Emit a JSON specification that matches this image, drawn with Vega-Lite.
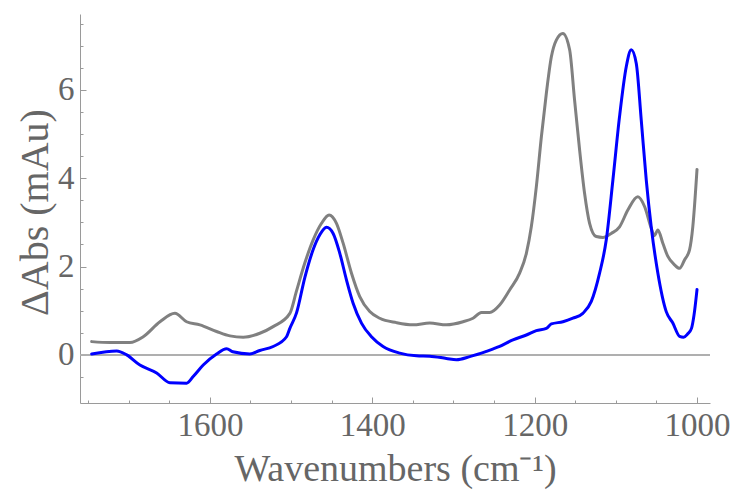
{
  "$schema": "https://vega.github.io/schema/vega-lite/v6.json",
  "width": 630,
  "height": 389,
  "autosize": {"type": "none"},
  "padding": {"left": 80, "top": 14, "right": 26, "bottom": 91},
  "background": "white",
  "config": {
    "view": {"stroke": null},
    "font": "Liberation Serif",
    "axis": {"grid": false, "labelFont": "Liberation Serif", "titleFont": "Liberation Serif", "labelColor": "#666666", "titleColor": "#666666", "titleFontWeight": "normal", "domainColor": "#9a9a9a", "tickColor": "#9a9a9a"}
  },
  "datasets": {
    "spectra": [
      {"s": "s1", "wn": 1745.6, "a": 0.30},
      {"s": "s1", "wn": 1723.1, "a": 0.28},
      {"s": "s1", "wn": 1698.5, "a": 0.28},
      {"s": "s1", "wn": 1682.1, "a": 0.41},
      {"s": "s1", "wn": 1661.5, "a": 0.75},
      {"s": "s1", "wn": 1643.1, "a": 0.94},
      {"s": "s1", "wn": 1628.7, "a": 0.75},
      {"s": "s1", "wn": 1612.3, "a": 0.68},
      {"s": "s1", "wn": 1591.8, "a": 0.53},
      {"s": "s1", "wn": 1575.4, "a": 0.43},
      {"s": "s1", "wn": 1559.0, "a": 0.40},
      {"s": "s1", "wn": 1538.5, "a": 0.49},
      {"s": "s1", "wn": 1522.1, "a": 0.64},
      {"s": "s1", "wn": 1501.5, "a": 0.94},
      {"s": "s1", "wn": 1493.3, "a": 1.45},
      {"s": "s1", "wn": 1483.1, "a": 2.08},
      {"s": "s1", "wn": 1472.9, "a": 2.60},
      {"s": "s1", "wn": 1462.5, "a": 2.98},
      {"s": "s1", "wn": 1453.2, "a": 3.17},
      {"s": "s1", "wn": 1444.1, "a": 2.98},
      {"s": "s1", "wn": 1435.9, "a": 2.53},
      {"s": "s1", "wn": 1425.6, "a": 1.85},
      {"s": "s1", "wn": 1415.4, "a": 1.32},
      {"s": "s1", "wn": 1403.1, "a": 0.98},
      {"s": "s1", "wn": 1390.8, "a": 0.83},
      {"s": "s1", "wn": 1370.2, "a": 0.73},
      {"s": "s1", "wn": 1349.8, "a": 0.68},
      {"s": "s1", "wn": 1329.2, "a": 0.72},
      {"s": "s1", "wn": 1308.7, "a": 0.68},
      {"s": "s1", "wn": 1288.2, "a": 0.75},
      {"s": "s1", "wn": 1275.9, "a": 0.83},
      {"s": "s1", "wn": 1265.6, "a": 0.96},
      {"s": "s1", "wn": 1255.4, "a": 0.96},
      {"s": "s1", "wn": 1243.1, "a": 1.13},
      {"s": "s1", "wn": 1230.8, "a": 1.47},
      {"s": "s1", "wn": 1218.5, "a": 1.85},
      {"s": "s1", "wn": 1210.2, "a": 2.30},
      {"s": "s1", "wn": 1204.1, "a": 2.90},
      {"s": "s1", "wn": 1197.9, "a": 3.81},
      {"s": "s1", "wn": 1191.7, "a": 4.94},
      {"s": "s1", "wn": 1185.6, "a": 5.92},
      {"s": "s1", "wn": 1179.4, "a": 6.75},
      {"s": "s1", "wn": 1173.3, "a": 7.13},
      {"s": "s1", "wn": 1165.2, "a": 7.28},
      {"s": "s1", "wn": 1156.9, "a": 6.91},
      {"s": "s1", "wn": 1150.8, "a": 5.77},
      {"s": "s1", "wn": 1144.6, "a": 4.64},
      {"s": "s1", "wn": 1138.5, "a": 3.66},
      {"s": "s1", "wn": 1132.3, "a": 2.98},
      {"s": "s1", "wn": 1124.1, "a": 2.68},
      {"s": "s1", "wn": 1115.9, "a": 2.66},
      {"s": "s1", "wn": 1105.6, "a": 2.75},
      {"s": "s1", "wn": 1095.4, "a": 2.90},
      {"s": "s1", "wn": 1085.2, "a": 3.28},
      {"s": "s1", "wn": 1072.9, "a": 3.58},
      {"s": "s1", "wn": 1064.6, "a": 3.36},
      {"s": "s1", "wn": 1056.4, "a": 2.87},
      {"s": "s1", "wn": 1052.5, "a": 2.70},
      {"s": "s1", "wn": 1048.2, "a": 2.83},
      {"s": "s1", "wn": 1042.1, "a": 2.53},
      {"s": "s1", "wn": 1035.9, "a": 2.23},
      {"s": "s1", "wn": 1027.7, "a": 2.04},
      {"s": "s1", "wn": 1021.5, "a": 1.96},
      {"s": "s1", "wn": 1015.4, "a": 2.15},
      {"s": "s1", "wn": 1009.2, "a": 2.38},
      {"s": "s1", "wn": 1005.2, "a": 2.90},
      {"s": "s1", "wn": 1000.0, "a": 4.20},
      {"s": "s2", "wn": 1745.6, "a": 0.02},
      {"s": "s2", "wn": 1714.8, "a": 0.09},
      {"s": "s2", "wn": 1702.5, "a": 0.00},
      {"s": "s2", "wn": 1686.2, "a": -0.23},
      {"s": "s2", "wn": 1665.6, "a": -0.41},
      {"s": "s2", "wn": 1649.2, "a": -0.63},
      {"s": "s2", "wn": 1628.7, "a": -0.64},
      {"s": "s2", "wn": 1620.6, "a": -0.49},
      {"s": "s2", "wn": 1608.2, "a": -0.23},
      {"s": "s2", "wn": 1591.8, "a": 0.02},
      {"s": "s2", "wn": 1579.4, "a": 0.14},
      {"s": "s2", "wn": 1571.7, "a": 0.07},
      {"s": "s2", "wn": 1550.8, "a": 0.02},
      {"s": "s2", "wn": 1538.5, "a": 0.10},
      {"s": "s2", "wn": 1522.1, "a": 0.19},
      {"s": "s2", "wn": 1505.6, "a": 0.41},
      {"s": "s2", "wn": 1501.5, "a": 0.60},
      {"s": "s2", "wn": 1493.3, "a": 0.95},
      {"s": "s2", "wn": 1483.1, "a": 1.75},
      {"s": "s2", "wn": 1472.9, "a": 2.38},
      {"s": "s2", "wn": 1464.6, "a": 2.72},
      {"s": "s2", "wn": 1456.4, "a": 2.89},
      {"s": "s2", "wn": 1448.2, "a": 2.75},
      {"s": "s2", "wn": 1440.0, "a": 2.30},
      {"s": "s2", "wn": 1431.8, "a": 1.70},
      {"s": "s2", "wn": 1423.6, "a": 1.17},
      {"s": "s2", "wn": 1413.3, "a": 0.72},
      {"s": "s2", "wn": 1401.0, "a": 0.41},
      {"s": "s2", "wn": 1386.7, "a": 0.19},
      {"s": "s2", "wn": 1366.2, "a": 0.04},
      {"s": "s2", "wn": 1345.6, "a": -0.02},
      {"s": "s2", "wn": 1329.2, "a": -0.03},
      {"s": "s2", "wn": 1308.7, "a": -0.08},
      {"s": "s2", "wn": 1296.4, "a": -0.11},
      {"s": "s2", "wn": 1280.0, "a": -0.04},
      {"s": "s2", "wn": 1259.4, "a": 0.08},
      {"s": "s2", "wn": 1243.1, "a": 0.19},
      {"s": "s2", "wn": 1226.7, "a": 0.34},
      {"s": "s2", "wn": 1210.2, "a": 0.45},
      {"s": "s2", "wn": 1197.9, "a": 0.55},
      {"s": "s2", "wn": 1185.6, "a": 0.60},
      {"s": "s2", "wn": 1179.4, "a": 0.70},
      {"s": "s2", "wn": 1165.2, "a": 0.75},
      {"s": "s2", "wn": 1152.9, "a": 0.83},
      {"s": "s2", "wn": 1140.6, "a": 0.94},
      {"s": "s2", "wn": 1130.2, "a": 1.21},
      {"s": "s2", "wn": 1120.0, "a": 1.85},
      {"s": "s2", "wn": 1111.8, "a": 2.60},
      {"s": "s2", "wn": 1103.6, "a": 3.96},
      {"s": "s2", "wn": 1095.4, "a": 5.40},
      {"s": "s2", "wn": 1087.1, "a": 6.53},
      {"s": "s2", "wn": 1081.0, "a": 6.91},
      {"s": "s2", "wn": 1074.8, "a": 6.60},
      {"s": "s2", "wn": 1068.7, "a": 5.32},
      {"s": "s2", "wn": 1062.5, "a": 3.96},
      {"s": "s2", "wn": 1056.4, "a": 2.90},
      {"s": "s2", "wn": 1048.2, "a": 1.85},
      {"s": "s2", "wn": 1037.9, "a": 0.98},
      {"s": "s2", "wn": 1029.8, "a": 0.72},
      {"s": "s2", "wn": 1021.5, "a": 0.42},
      {"s": "s2", "wn": 1016.6, "a": 0.40},
      {"s": "s2", "wn": 1011.7, "a": 0.47},
      {"s": "s2", "wn": 1006.8, "a": 0.60},
      {"s": "s2", "wn": 1003.7, "a": 0.90},
      {"s": "s2", "wn": 1000.0, "a": 1.48}
    ]
  },
  "data": {"name": "spectra"},
  "resolve": {"axis": {"x": "independent", "y": "independent"}},
  "layer": [
    {
      "mark": {"type": "rule", "color": "#b0b0b0", "strokeWidth": 1},
      "encoding": {
        "y": {"datum": 0, "type": "quantitative", "axis": null, "scale": {"domain": [-1.09, 7.72], "nice": false, "zero": false}}
      }
    },
    {
      "mark": {"type": "line", "strokeWidth": 3, "strokeCap": "round", "strokeJoin": "round", "interpolate": "monotone"},
      "encoding": {
        "x": {
          "field": "wn", "type": "quantitative",
          "scale": {"domain": [984, 1760], "reverse": true, "nice": false, "zero": false},
          "axis": {"values": [1000, 1200, 1400, 1600], "format": "d", "labelFontSize": 33, "tickSize": -6, "labelPadding": 12, "title": "Wavenumbers (cm⁻¹)", "titleFontSize": 38, "titlePadding": 8}
        },
        "y": {
          "field": "a", "type": "quantitative",
          "scale": {"domain": [-1.09, 7.72], "nice": false, "zero": false},
          "axis": {"values": [0, 2, 4, 6], "labelFontSize": 33, "tickSize": -6, "labelPadding": 12, "title": "ΔAbs (mAu)", "titleFontSize": 40, "titlePadding": 2, "titleY": 198}
        },
        "color": {"field": "s", "type": "nominal", "scale": {"domain": ["s1", "s2"], "range": ["#808080", "#0000ff"]}, "legend": null}
      }
    },
    {
      "mark": {"type": "point", "opacity": 0},
      "encoding": {
        "x": {
          "field": "wn", "type": "quantitative",
          "axis": {"orient": "bottom", "values": [1750, 1700, 1650, 1550, 1500, 1450, 1350, 1300, 1250, 1150, 1100, 1050], "labels": false, "domain": false, "tickSize": -3, "title": null}
        },
        "y": {
          "field": "a", "type": "quantitative",
          "axis": {"orient": "left", "values": [-0.5, 0.5, 1, 1.5, 2.5, 3, 3.5, 4.5, 5, 5.5, 6.5, 7, 7.5], "labels": false, "domain": false, "tickSize": -3, "title": null}
        }
      }
    }
  ]
}
